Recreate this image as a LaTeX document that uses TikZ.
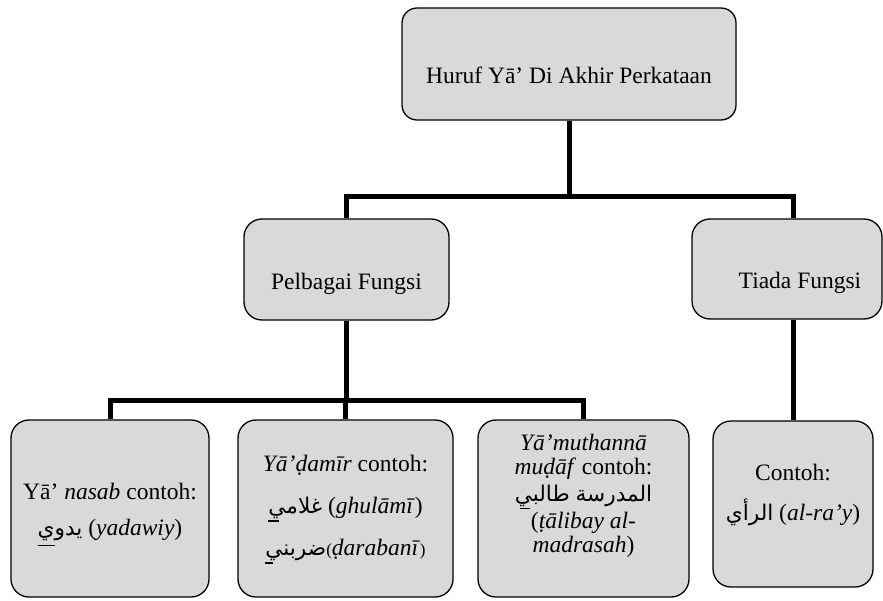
\documentclass[tikz,border=0pt]{standalone}
\usepackage{fontspec}
\setmainfont{Liberation Serif}
\newfontfamily\arabicfont[Script=Arabic,Scale=0.92]{DejaVu Sans}
\TeXXeTstate=1
\newcommand{\artxt}[1]{{\arabicfont\beginR #1\endR}}
% \yaline{offset}{width}{depth}: underline starting at the current point
\newcommand{\yaline}[3]{\rlap{\hspace{#1}\rule[-#3]{#2}{1.4bp}}}
\definecolor{boxgray}{HTML}{D9D9D9}
\tikzset{
  box/.style={draw=black, line width=1.3bp, fill=boxgray, rounded corners=18bp,
    inner sep=0pt},
  conn/.style={line width=5bp, line join=miter},
  txt/.style={font=\fontsize{23.5bp}{#1}\selectfont, align=center, inner sep=0pt},
}
\begin{document}
\begin{tikzpicture}[x=1bp,y=-1bp]
\useasboundingbox (0,0) rectangle (883,601);
% level 0
\node[box, minimum width=334bp, minimum height=112bp, rounded corners=15bp] (top) at (569,64) {};
\node[txt=26bp] (topt) at ([yshift=-11bp]top.center) {Huruf Yā’ Di Akhir Perkataan};
% level 1
\node[box, minimum width=205bp, minimum height=101bp] (pel) at (346.5,269.5) {};
\node[txt=26bp] (pelt) at ([yshift=-14bp]pel.center) {Pelbagai Fungsi};
\node[box, minimum width=190bp, minimum height=100bp] (tia) at (787,269) {};
\node[txt=26bp] (tiat) at ([xshift=13bp,yshift=-14bp]tia.center) {Tiada Fungsi};
% level 2 boxes
\node[box, minimum width=198bp, minimum height=177bp] (b1) at (110,508.5) {};
\node[box, minimum width=215bp, minimum height=177bp] (b2) at (345.5,508.5) {};
\node[box, minimum width=211bp, minimum height=177bp] (b3) at (583.5,508.5) {};
\node[box, minimum width=160bp, minimum height=166bp] (b4) at (793,504) {};
% level 2 texts
\node[txt=36bp] (b1t) at ([yshift=-6bp]b1.center)
  {Yā’ \textit{nasab} contoh:\\\yaline{0bp}{17bp}{11bp}\artxt{يدوي} (\textit{yadawiy})};
\node[txt=42bp] (b2t) at ([yshift=-1bp]b2.center)
  {\textit{Yā’ḍamīr} contoh:\\\yaline{0bp}{11bp}{8bp}\artxt{غلامي} (\textit{ghulāmī})\\\yaline{0bp}{8bp}{8bp}\artxt{ضربني}{\fontsize{17bp}{17bp}\selectfont(}\textit{ḍarabanī}{\fontsize{17bp}{17bp}\selectfont)}};
\node[txt=24bp] (b3t) at ([yshift=13bp]b3.center)
  {\textit{Yā’muthannā}\\\textit{muḍāf} contoh:\\[3bp]\yaline{5bp}{10bp}{8bp}\artxt{طالبي} \artxt{المدرسة}\\[2bp](\textit{ṭālibay al-}\\\textit{madrasah})};
\node[txt=40bp] (b4t) at ([yshift=9bp]b4.center)
  {Contoh:\\\artxt{الرأي} (\textit{al-ra’y})};
% connectors
\coordinate (j1) at (569,197);
\coordinate (j2) at (346.5,400);
\draw[conn] (top.south) -- (j1);
\draw[conn] (pel.north) |- (j1) -| ([xshift=6bp]tia.north);
\draw[conn] (pel.south) -- (j2);
\draw[conn] (b1.north) |- (j2) -| (b3.north);
\draw[conn] (b2.north) -- (b2.north |- j2);
\draw[conn] (b4.north) -- (b4.north |- tia.south);
\end{tikzpicture}
\end{document}
